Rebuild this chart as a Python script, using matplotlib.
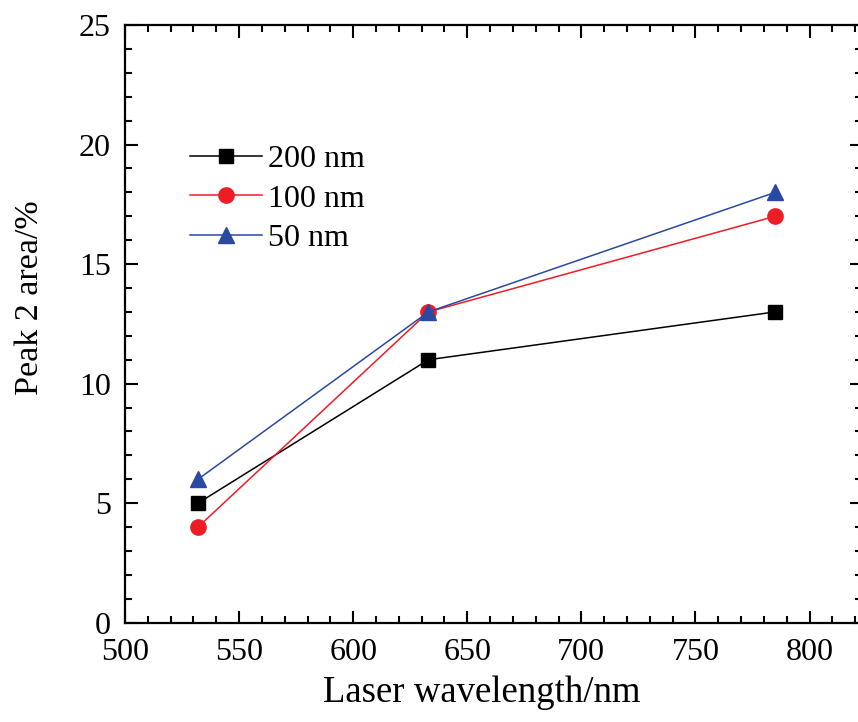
import matplotlib
matplotlib.use("Agg")
import matplotlib.pyplot as plt
from matplotlib.ticker import MultipleLocator

wavelength = [532, 633, 785]
area_200 = [5, 11, 13]
area_100 = [4, 13, 17]
area_50 = [6, 13, 18]
labels = ["200 nm", "100 nm", "50 nm"]

plt.rcParams['font.family'] = ['Liberation Serif', 'DejaVu Serif']

fig = plt.figure(figsize=(8.58, 7.22), dpi=100)
W, H = 858, 722
left, right, top, bottom = 125, 862, 25, 622.7
ax = fig.add_axes([left / W, 1 - bottom / H, (right - left) / W, (bottom - top) / H])

ax.plot(wavelength, area_200, color='black', marker='s', markersize=9.5, lw=1.1, label=labels[0])
ax.plot(wavelength, area_100, color='#ee1c25', marker='o', markersize=11, lw=1.1, label=labels[1])
ax.plot(wavelength, area_50, color='#2a49a3', marker='^', markersize=11, lw=1.1, label=labels[2])

ax.set_xlim(500, 823)
ax.set_ylim(0, 25)
ax.xaxis.set_major_locator(MultipleLocator(50))
ax.xaxis.set_minor_locator(MultipleLocator(10))
ax.yaxis.set_major_locator(MultipleLocator(5))
ax.yaxis.set_minor_locator(MultipleLocator(1))
ax.tick_params(which='both', direction='in', top=True, right=True, width=1.5, labelsize=23)
ax.tick_params(which='major', length=9)
ax.tick_params(which='minor', length=5)
ax.tick_params(axis='x', pad=11)
ax.tick_params(axis='y', pad=10)
for s in ax.spines.values():
    s.set_linewidth(1.6)

ax.set_xlabel("Laser wavelength/nm", fontsize=26.5)
ax.set_ylabel("Peak 2 area/%", fontsize=24.5)
ax.xaxis.set_label_coords((482 - left) / (right - left), (bottom - 675) / (bottom - top))
ax.yaxis.set_label_coords((45 - left) / (right - left), (bottom - 298) / (bottom - top))

ax.legend(loc='upper left', bbox_to_anchor=((190 - left) / (right - left), (bottom - 145) / (bottom - top)),
          frameon=False, fontsize=23, handlelength=2.25, handletextpad=0.2, labelspacing=0.31,
          borderaxespad=0, borderpad=0)

fig.savefig("out.png", dpi=100)
